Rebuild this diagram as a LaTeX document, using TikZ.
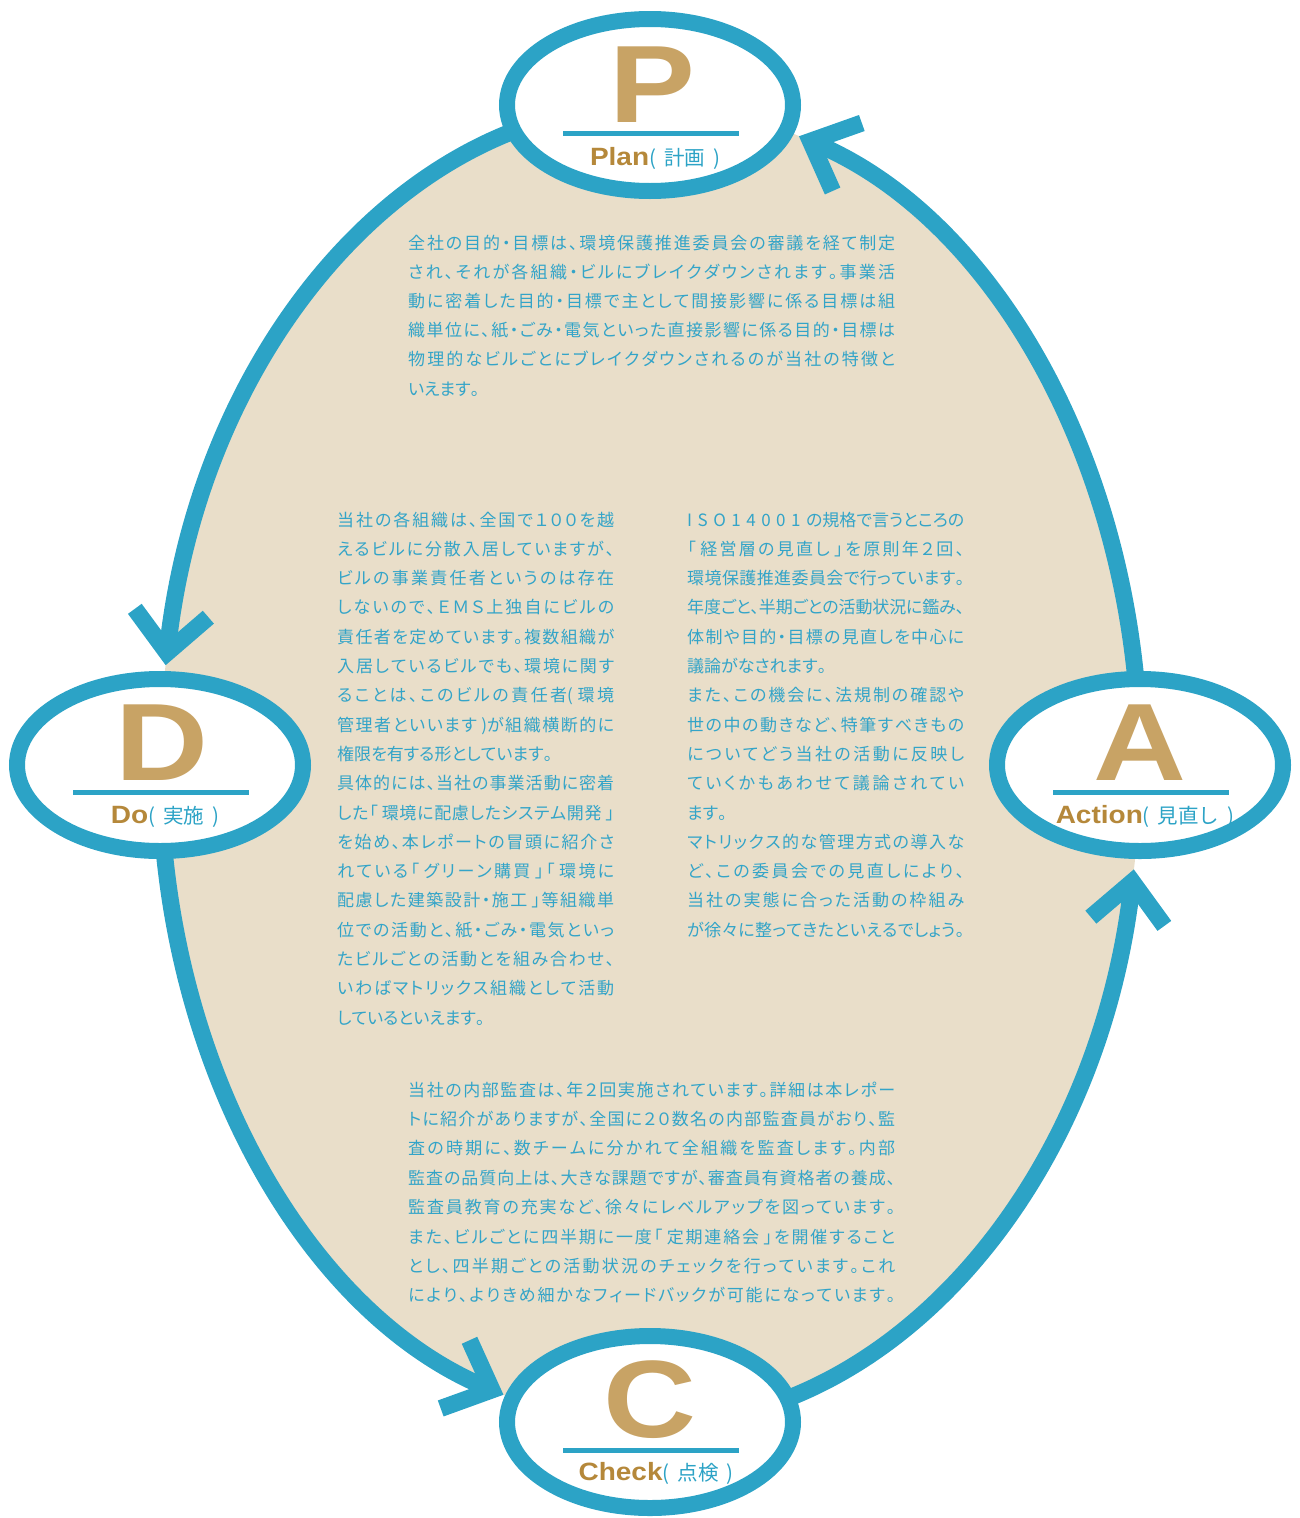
\documentclass[tikz,border=0pt]{standalone}
\usepackage{fontspec}
\usepackage{graphicx}
\setmainfont{Liberation Sans}
\newfontfamily\jpfont{Noto Sans CJK JP}[RawFeature=+palt]
\newfontfamily\jplabel{Noto Sans CJK JP}
\usetikzlibrary{shapes.geometric,arrows.meta,calc}

% Japanese characters get their own class, so that stretchable glue
% can be put between them and justified lines spread evenly
\newcount\cjkcode
\newcommand\cjkrange[2]{%
  \cjkcode=#1\relax
  \loop
    \XeTeXcharclass\cjkcode=5\relax
  \ifnum\cjkcode<#2\relax
    \advance\cjkcode by 1\relax
  \repeat}
\cjkrange{"3001}{"30FF}
\cjkrange{"4E00}{"9FFF}
\cjkrange{"FF01}{"FF60}
\XeTeXinterchartoks 5 5 = {\hskip 0pt plus 5pt minus 1.5pt\relax}
\XeTeXinterchartokenstate=1

\definecolor{cycblue}{HTML}{2CA3C6}
\definecolor{txtblue}{HTML}{33A4C8}
\definecolor{sand}{HTML}{E9DEC9}
\definecolor{gold}{HTML}{C8A365}
\definecolor{ochre}{HTML}{B5883A}

\tikzset{
  stage/.style={ellipse, draw=cycblue, line width=16pt, fill=white,
    minimum width=286pt, minimum height=172pt, inner sep=0pt},
  letter/.style={anchor=base, inner sep=0pt, text=gold,
    font=\bfseries\fontsize{110}{110}\selectfont},
  bar/.style={fill=cycblue, minimum width=176pt, minimum height=5pt, inner sep=0pt},
  caption/.style={anchor=base, inner sep=0pt},
  flow/.style={draw=cycblue, line width=17pt,
    -{Straight Barb[sharp, length=40pt, width=74pt]}},
  body/.style={anchor=base west, inner sep=0pt, text=txtblue,
    font=\jpfont\fontsize{17}{17}\selectfont},
}

\newcommand\bigletter[1]{\scalebox{1.17}[1]{#1}}
\newcommand\caplatin[1]{\textcolor{ochre}{\bfseries\fontsize{25}{25}\selectfont\scalebox{1.12}[1]{#1}}}
\newcommand\capjp[1]{\textcolor{cycblue}{\jplabel\fontsize{20.5}{20.5}\selectfont\spaceskip=8pt\relax #1}}
\newcommand\gap{\kern5.5pt\relax}

% one text block: name, left x, first baseline, line width, skip, {line/full,...}
\newcommand\bodyblock[6]{%
  \foreach \row/\fl [count=\i] in {#6} {
    \node[body] (#1-\i) at (#2, {-(#3)-(#5)*(\i-1)})
      {\ifnum\fl=1\relax\makebox[#4][s]{\row}\else\row\fi};
  }}

\begin{document}
\begin{tikzpicture}[x=1pt, y=1pt]
\useasboundingbox (0,0) rectangle (1299,-1518);
\clip (0,0) rectangle (1299,-1518);

% large cycle field
\coordinate (E) at (650,-765);
\fill[sand] (E) ellipse[x radius=490pt, y radius=660pt];

% cycle arcs between the stages
\path (E) ++(100:490pt and 660pt) coordinate (P-out);
\path (E) ++(185:490pt and 660pt) coordinate (D-out);
\path (E) ++(280:490pt and 660pt) coordinate (C-out);
\path (E) ++(5:490pt and 660pt)   coordinate (A-out);
\draw[flow] (P-out) arc[start angle=100, end angle=171.3, x radius=490pt, y radius=660pt] coordinate (D-in);
\draw[flow] (D-out) arc[start angle=185, end angle=252.6, x radius=490pt, y radius=660pt] coordinate (C-in);
\draw[flow] (C-out) arc[start angle=280, end angle=350.9, x radius=490pt, y radius=660pt] coordinate (A-in);
\draw[flow] (A-out) arc[start angle=5, end angle=72.3, x radius=490pt, y radius=660pt] coordinate (P-in);

% stages
\node[stage] (P) at (650,-105) {};
\node[stage] (D) at (160,-765) {};
\node[stage] (A) at (1140,-765) {};
\node[stage] (C) at (650,-1422) {};

\node[letter] (P-l) at ($(P)+(2,-17)$) {\bigletter{P}};
\node[letter] (D-l) at ($(D)+(2,-15)$) {\bigletter{D}};
\node[letter] (A-l) at ($(A)+(0,-15)$) {\bigletter{A}};
\node[letter] (C-l) at ($(C)+(0,-15)$) {\bigletter{C}};

\node[bar] (P-b) at ($(P)+(1,-28)$) {};
\node[bar] (D-b) at ($(D)+(1,-27)$) {};
\node[bar] (A-b) at ($(A)+(1,-27)$) {};
\node[bar] (C-b) at ($(C)+(1,-28)$) {};

\node[caption] (P-c) at ($(P)+(5,-60)$) {\caplatin{Plan}\capjp{( 計画 )}};
\node[caption] (D-c) at ($(D)+(5,-58)$) {\caplatin{Do}\capjp{( 実施 )}};
\node[caption] (A-c) at ($(A)+(5,-58)$) {\caplatin{Action}\capjp{( 見直し )}};
\node[caption] (C-c) at ($(C)+(6,-58)$) {\caplatin{Check}\capjp{( 点検 )}};

% Plan text
\bodyblock{tp}{408}{249}{487pt}{29.2}{
  {全社の目的・目標は、環境保護推進委員会の審議を経て制定}/1,
  {され、それが各組織・ビルにブレイクダウンされます。事業活}/1,
  {動に密着した目的・目標で主として間接影響に係る目標は組}/1,
  {織単位に、紙・ごみ・電気といった直接影響に係る目的・目標は}/1,
  {物理的なビルごとにブレイクダウンされるのが当社の特徴と}/1,
  {いえます。}/0}

% Do text
\bodyblock{td}{337}{526}{277pt}{29.3}{
  {当社の各組織は、全国で１００を越}/1,
  {えるビルに分散入居していますが、}/1,
  {ビルの事業責任者というのは存在}/1,
  {しないので、ＥＭＳ上独自にビルの}/1,
  {責任者を定めています。複数組織が}/1,
  {入居しているビルでも、環境に関す}/1,
  {ることは、このビルの責任者( 環境}/1,
  {管理者といいます )が組織横断的に}/1,
  {権限を有する形としています。}/0,
  {具体的には、当社の事業活動に密着}/1,
  {した「 環境に配慮したシステム開発 」}/1,
  {を始め、本レポートの冒頭に紹介さ}/1,
  {れている「 グリーン購買 」「 環境に}/1,
  {配慮した建築設計・施工 」等組織単}/1,
  {位での活動と、紙・ごみ・電気といっ}/1,
  {たビルごとの活動とを組み合わせ、}/1,
  {いわばマトリックス組織として活動}/1,
  {しているといえます。}/0}

% Action text
\bodyblock{ta}{687}{526}{277pt}{29.3}{
  {I\gap S\gap O\gap 1\gap 4\gap 0\gap 0\gap 1\gap の規格で言うところの}/1,
  {「 経営層の見直し 」を原則年２回、}/1,
  {環境保護推進委員会で行っています。}/1,
  {年度ごと、半期ごとの活動状況に鑑み、}/1,
  {体制や目的・目標の見直しを中心に}/1,
  {議論がなされます。}/0,
  {また、この機会に、法規制の確認や}/1,
  {世の中の動きなど、特筆すべきもの}/1,
  {についてどう当社の活動に反映し}/1,
  {ていくかもあわせて議論されてい}/1,
  {ます。}/0,
  {マトリックス的な管理方式の導入な}/1,
  {ど、この委員会での見直しにより、}/1,
  {当社の実態に合った活動の枠組み}/1,
  {が徐々に整ってきたといえるでしょう。}/1}

% Check text
\bodyblock{tc}{408}{1096}{487pt}{29.4}{
  {当社の内部監査は、年２回実施されています。詳細は本レポー}/1,
  {トに紹介がありますが、全国に２０数名の内部監査員がおり、監}/1,
  {査の時期に、数チームに分かれて全組織を監査します。内部}/1,
  {監査の品質向上は、大きな課題ですが、審査員有資格者の養成、}/1,
  {監査員教育の充実など、徐々にレベルアップを図っています。}/1,
  {また、ビルごとに四半期に一度「 定期連絡会 」を開催すること}/1,
  {とし、四半期ごとの活動状況のチェックを行っています。これ}/1,
  {により、よりきめ細かなフィードバックが可能になっています。}/1}

\end{tikzpicture}
\end{document}
